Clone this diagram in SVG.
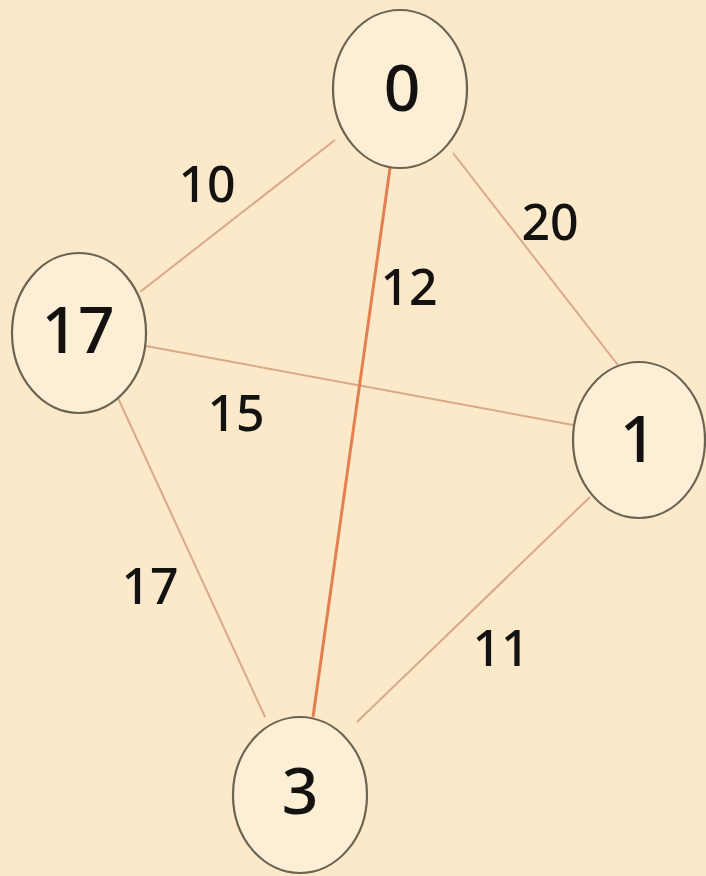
<svg xmlns="http://www.w3.org/2000/svg" width="706" height="876" viewBox="0 0 706 876">
<style>
.edge{stroke:#d9a98a;stroke-width:2;fill:none}
.hot{stroke:#e3804f;stroke-width:3}
.node ellipse{fill:#fcefd6;stroke:#6b6450;stroke-width:2.2}
.nl{font-family:"Noto Sans","Liberation Sans",sans-serif;font-weight:500;font-size:64px;fill:#141210;text-anchor:middle;dominant-baseline:central}
.el{font-family:"Noto Sans","Liberation Sans",sans-serif;font-weight:500;font-size:50px;fill:#141210;text-anchor:middle;dominant-baseline:central}
</style>
<rect width="706" height="876" fill="#fbe9c9"/>
<g id="connectors">
<line class="edge" x1="335" y1="140" x2="140" y2="292"/>
<line class="edge" x1="453" y1="153" x2="628" y2="378"/>
<line class="edge" x1="146" y1="346" x2="573" y2="425"/>
<line class="edge" x1="118" y1="398" x2="265" y2="717"/>
<line class="edge" x1="590" y1="497" x2="357" y2="722"/>
<line class="edge hot" x1="390" y1="168" x2="313" y2="717"/>
<text class="el" x="207" y="183">10</text>
<text class="el" x="550" y="221">20</text>
<text class="el" x="409" y="286">12</text>
<text class="el" x="236" y="412">15</text>
<text class="el" x="150" y="585">17</text>
<text class="el" x="501" y="647">11</text>
</g>
<g id="node-0" class="node"><ellipse cx="400" cy="89" rx="67" ry="79"/><text class="nl" x="402" y="86">0</text></g>
<g id="node-17" class="node"><ellipse cx="79" cy="333" rx="67" ry="80"/><text class="nl" x="78" y="328">17</text></g>
<g id="node-1" class="node"><ellipse cx="639" cy="440" rx="66" ry="78"/><text class="nl" x="638" y="437">1</text></g>
<g id="node-3" class="node"><ellipse cx="300" cy="795" rx="67" ry="78"/><text class="nl" x="300" y="789">3</text></g>
</svg>
